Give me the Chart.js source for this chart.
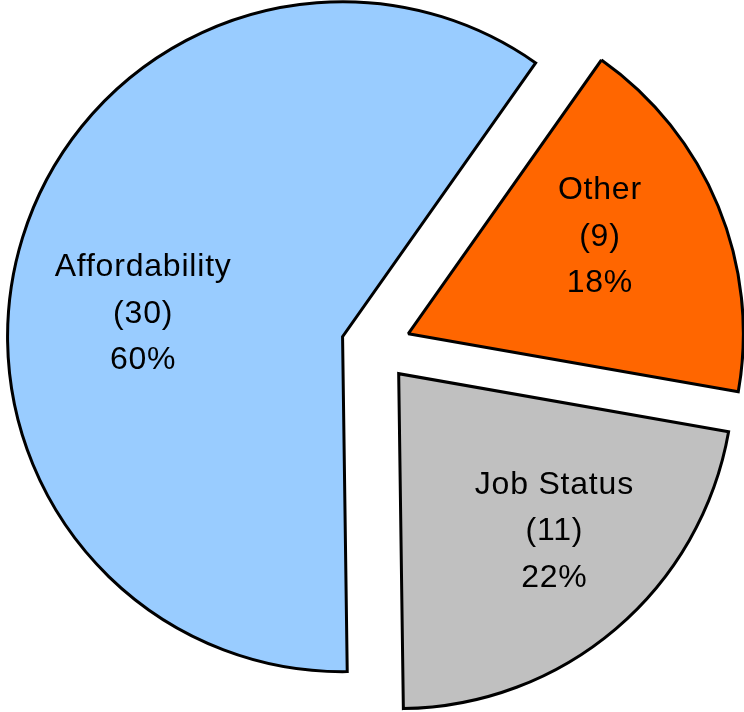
<!DOCTYPE html>
<html>
<head>
<meta charset="utf-8">
<script src="https://cdn.jsdelivr.net/npm/chart.js@4.4.1/dist/chart.umd.min.js"></script>
<style>
  html, body { margin: 0; padding: 0; background: #ffffff; }
  #wrap { width: 744px; height: 712px; position: relative; }
</style>
</head>
<body>
<div id="wrap"><canvas id="c" width="744" height="712"></canvas></div>
<script>
// ---- data ----
const categories = ['Affordability', 'Other', 'Job Status'];
const counts = [30, 9, 11];
const sliceColors = ['#99CCFF', '#FF6600', '#C0C0C0'];

// exploded slices: translate each arc along its mid angle
const explodePlugin = {
  id: 'explode',
  beforeDatasetDraw(chart, args, opts) {
    const ctx = chart.ctx;
    args.meta.data.forEach(arc => {
      const mid = (arc.startAngle + arc.endAngle) / 2;
      ctx.save();
      ctx.miterLimit = opts.miterLimit;
      ctx.translate(Math.cos(mid) * opts.distance, Math.sin(mid) * opts.distance);
      arc.draw(ctx, chart.chartArea);
      ctx.restore();
    });
    return false;
  }
};

const sliceLabels = {
  id: 'sliceLabels',
  afterDraw(chart, args, opts) {
    const ctx = chart.ctx;
    const meta = chart.getDatasetMeta(0);
    const data = chart.data.datasets[0].data;
    const total = data.reduce((a, b) => a + b, 0);
    const dist = chart.options.plugins.explode.distance;
    ctx.save();
    ctx.fillStyle = '#000000';
    ctx.font = opts.font;
    if ('letterSpacing' in ctx) ctx.letterSpacing = opts.letterSpacing;
    ctx.textAlign = 'center';
    ctx.textBaseline = 'alphabetic';
    meta.data.forEach((arc, i) => {
      const mid = (arc.startAngle + arc.endAngle) / 2;
      const cx = arc.x + Math.cos(mid) * dist;
      const cy = arc.y + Math.sin(mid) * dist;
      const p = opts.placement[i];
      const a = mid + p.dAngle * Math.PI / 180;
      const r = arc.outerRadius * p.frac;
      const x = cx + Math.cos(a) * r;
      const y = cy + Math.sin(a) * r;
      const lines = [chart.data.labels[i], '(' + data[i] + ')', Math.round(data[i] / total * 100) + '%'];
      lines.forEach((t, k) => {
        ctx.fillText(t, x, y + opts.capHalf + (k - 1) * opts.lineHeight);
      });
    });
    ctx.restore();
  }
};

new Chart(document.getElementById('c'), {
  type: 'pie',
  data: {
    labels: categories,
    datasets: [{
      data: counts,
      backgroundColor: sliceColors,
      borderColor: '#000000',
      borderWidth: 3,
      borderJoinStyle: 'miter',
      radius: 335
    }]
  },
  options: {
    responsive: false,
    animation: false,
    rotation: 179.2,
    layout: { padding: { left: 8, right: 0, top: 0, bottom: 18 } },
    plugins: {
      legend: { display: false },
      tooltip: { enabled: false },
      explode: { distance: 35, miterLimit: 1.6 },
      sliceLabels: {
        font: '32px "Liberation Sans", Arial, sans-serif',
        letterSpacing: '0.8px',
        lineHeight: 46.5,
        capHalf: 11.5,
        placement: [
          { dAngle: -10, frac: 0.60 },
          { dAngle: -5, frac: 0.644 },
          { dAngle: -4.7, frac: 0.656 }
        ]
      }
    }
  },
  plugins: [explodePlugin, sliceLabels]
});
</script>
</body>
</html>
